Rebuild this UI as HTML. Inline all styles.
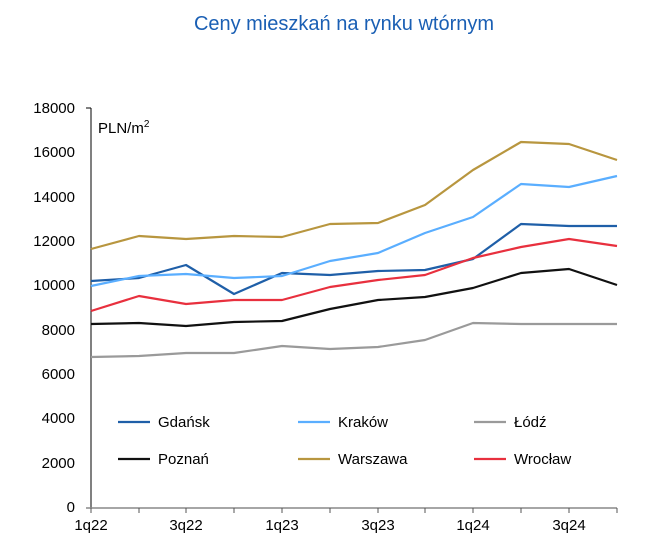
<!DOCTYPE html>
<html><head><meta charset="utf-8"><style>
body{margin:0;background:#fff;}
svg text{font-family:"Liberation Sans",sans-serif;}
</style></head><body>
<svg width="645" height="547" xmlns="http://www.w3.org/2000/svg">
<text x="344" y="30" text-anchor="middle" font-size="20" fill="#1a5fb4">Ceny mieszkań na rynku wtórnym</text>
<g font-size="15" fill="#000" text-anchor="end">
<text x="75" y="113">18000</text><text x="75" y="157">16000</text><text x="75" y="202">14000</text>
<text x="75" y="246">12000</text><text x="75" y="290">10000</text><text x="75" y="335">8000</text>
<text x="75" y="379">6000</text><text x="75" y="423">4000</text><text x="75" y="468">2000</text>
<text x="75" y="512">0</text>
</g>
<g stroke="#000" stroke-width="1">
<line x1="91" y1="108" x2="91" y2="508"/>
<line x1="86" y1="108" x2="91" y2="108"/>
</g>
<line x1="86" y1="508" x2="617" y2="508" stroke="#888" stroke-width="1.5"/>
<g stroke="#555" stroke-width="1">
<line x1="91" y1="508" x2="91" y2="513"/><line x1="139" y1="508" x2="139" y2="513"/><line x1="186" y1="508" x2="186" y2="513"/><line x1="234" y1="508" x2="234" y2="513"/><line x1="282" y1="508" x2="282" y2="513"/><line x1="330" y1="508" x2="330" y2="513"/><line x1="378" y1="508" x2="378" y2="513"/><line x1="425" y1="508" x2="425" y2="513"/><line x1="473" y1="508" x2="473" y2="513"/><line x1="521" y1="508" x2="521" y2="513"/><line x1="569" y1="508" x2="569" y2="513"/><line x1="617" y1="508" x2="617" y2="513"/>
</g>
<g font-size="15" text-anchor="middle">
<text x="91" y="530">1q22</text><text x="186" y="530">3q22</text><text x="282" y="530">1q23</text><text x="378" y="530">3q23</text><text x="473" y="530">1q24</text><text x="569" y="530">3q24</text>
</g>
<text x="98" y="133" font-size="15">PLN/m<tspan font-size="10" dy="-6">2</tspan></text>
<g fill="none" stroke-width="2.2" stroke-linejoin="round">
<polyline stroke="#1f5fa8" points="91,281 139,278 186,265 234,294 282,273 330,275 378,271 425,270 473,259 521,224 569,226 617,226"/>
<polyline stroke="#5aaeff" points="91,286 139,276 186,274 234,278 282,276 330,261 378,253 425,233 473,217 521,184 569,187 617,176"/>
<polyline stroke="#9a9a9a" points="91,357 139,356 186,353 234,353 282,346 330,349 378,347 425,340 473,323 521,324 569,324 617,324"/>
<polyline stroke="#111" points="91,324 139,323 186,326 234,322 282,321 330,309 378,300 425,297 473,288 521,273 569,269 617,285"/>
<polyline stroke="#b8963f" points="91,249 139,236 186,239 234,236 282,237 330,224 378,223 425,205 473,170 521,142 569,144 617,160"/>
<polyline stroke="#e8303e" points="91,311 139,296 186,304 234,300 282,300 330,287 378,280 425,275 473,258 521,247 569,239 617,246"/>
</g>
<g stroke-width="2.2">
<line x1="118" y1="422" x2="150" y2="422" stroke="#1f5fa8"/>
<line x1="298" y1="422" x2="330" y2="422" stroke="#5aaeff"/>
<line x1="474" y1="422" x2="506" y2="422" stroke="#9a9a9a"/>
<line x1="118" y1="459" x2="150" y2="459" stroke="#111"/>
<line x1="298" y1="459" x2="330" y2="459" stroke="#b8963f"/>
<line x1="474" y1="459" x2="506" y2="459" stroke="#e8303e"/>
</g>
<g font-size="15">
<text x="158" y="427">Gdańsk</text><text x="338" y="427">Kraków</text><text x="514" y="427">Łódź</text>
<text x="158" y="464">Poznań</text><text x="338" y="464">Warszawa</text><text x="514" y="464">Wrocław</text>
</g>
</svg>
</body></html>
